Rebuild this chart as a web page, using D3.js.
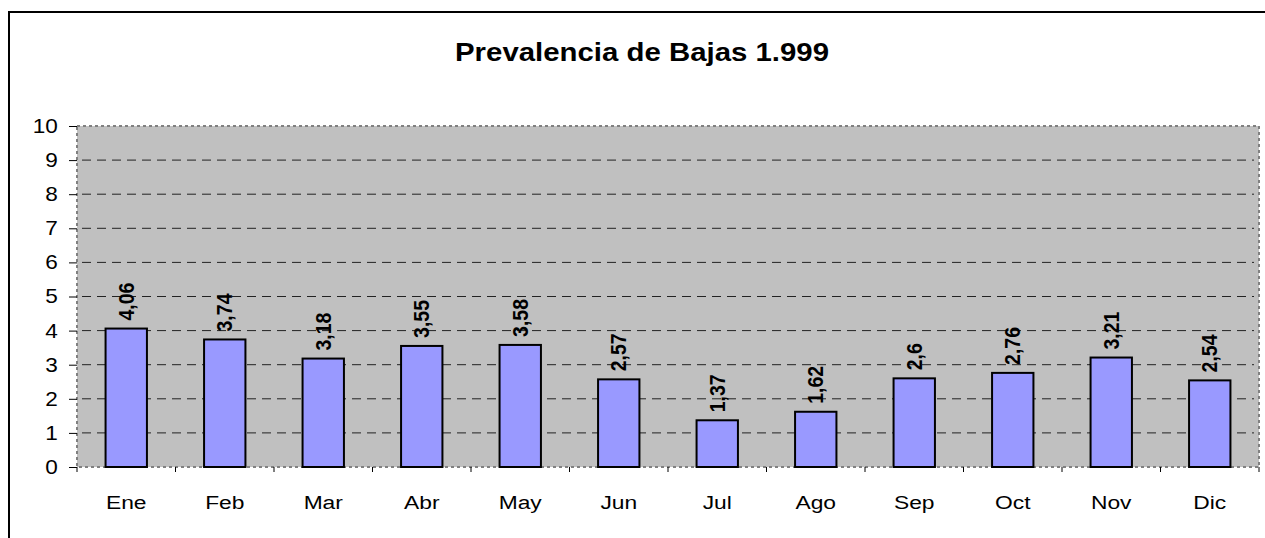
<!DOCTYPE html>
<html>
<head>
<meta charset="utf-8">
<script src="https://cdn.jsdelivr.net/npm/d3@7"></script>
<style>
  body { margin: 0; background: #fff; }
  text { font-family: Arial, "Liberation Sans", sans-serif; }
</style>
</head>
<body>
<div id="wrapper"></div>
<script>
// Data
var months = ["Ene", "Feb", "Mar", "Abr", "May", "Jun", "Jul", "Ago", "Sep", "Oct", "Nov", "Dic"];
var values = [4.06, 3.74, 3.18, 3.55, 3.58, 2.57, 1.37, 1.62, 2.6, 2.76, 3.21, 2.54];
var valueLabels = ["4,06", "3,74", "3,18", "3,55", "3,58", "2,57", "1,37", "1,62", "2,6", "2,76", "3,21", "2,54"];
var yTicks = [0, 1, 2, 3, 4, 5, 6, 7, 8, 9, 10];
var title = "Prevalencia de Bajas 1.999";

var width = 1265, height = 538;
var plot = { left: 77, right: 1259, top: 126, bottom: 467 };
var stretch = 1.13; // the source picture is a bit wider than tall

var svg = d3.select("#wrapper")
    .append("svg")
    .attr("width", width)
    .attr("height", height);

// outer chart frame (cut off on right and bottom)
svg.append("rect")
    .attr("x", 9).attr("y", 12)
    .attr("width", 1320).attr("height", 600)
    .attr("fill", "#fff")
    .attr("stroke", "#000")
    .attr("stroke-width", 2);

svg.append("text")
    .attr("transform", "translate(642,61) scale(" + stretch + ",1)")
    .attr("text-anchor", "middle")
    .style("font-size", "26px")
    .style("font-weight", "bold")
    .text(title);

var x = d3.scaleBand()
    .domain(months)
    .range([plot.left, plot.right])
    .paddingInner(0.58)
    .paddingOuter(0.29);

var xEdges = d3.scaleBand()
    .domain(months)
    .range([plot.left, plot.right]);

var y = d3.scaleLinear()
    .domain([0, 10])
    .range([plot.bottom, plot.top]);

// plot background
svg.append("rect")
    .attr("x", plot.left).attr("y", plot.top)
    .attr("width", plot.right - plot.left)
    .attr("height", plot.bottom - plot.top)
    .attr("fill", "#C0C0C0");

// gridlines
svg.selectAll("line.grid")
    .data(yTicks.filter(function(d) { return d > 0 && d < 10; }))
    .enter()
    .append("line")
    .attr("class", "grid")
    .attr("x1", plot.left + 5).attr("x2", plot.right - 5)
    .attr("y1", function(d) { return y(d); })
    .attr("y2", function(d) { return y(d); })
    .attr("stroke", "#222")
    .attr("stroke-width", 1)
    .attr("stroke-dasharray", "9,6");

// plot border (dotted gray)
svg.append("rect")
    .attr("x", plot.left).attr("y", plot.top)
    .attr("width", plot.right - plot.left)
    .attr("height", plot.bottom - plot.top)
    .attr("fill", "none")
    .attr("stroke", "#808080")
    .attr("stroke-width", 2)
    .attr("stroke-dasharray", "3,3");

// bars
svg.selectAll("rect.bar")
    .data(values)
    .enter()
    .append("rect")
    .attr("class", "bar")
    .attr("x", function(d, i) { return x(months[i]); })
    .attr("y", function(d) { return y(d); })
    .attr("width", x.bandwidth())
    .attr("height", function(d) { return y(0) - y(d); })
    .attr("fill", "#9999FF")
    .attr("stroke", "#000")
    .attr("stroke-width", 2);

// value labels
svg.selectAll("text.val")
    .data(values)
    .enter()
    .append("text")
    .attr("class", "val")
    .attr("transform", function(d, i) {
        return "translate(" + (x(months[i]) + x.bandwidth() / 2) + "," + (y(d) - 8) + ") scale(" + stretch + ",1) rotate(-90)";
    })
    .attr("dy", "0.35em")
    .style("font-size", "19.5px")
    .style("font-weight", "bold")
    .text(function(d, i) { return valueLabels[i]; });

// y axis
var yAxis = svg.append("g")
    .attr("transform", "translate(" + plot.left + ",0)")
    .call(d3.axisLeft(y).tickValues(yTicks).tickSize(8).tickPadding(9).tickFormat(d3.format("d")));
yAxis.select(".domain").remove();
yAxis.selectAll("text")
    .attr("transform", "scale(" + stretch + ",1)")
    .style("font-size", "20px")
    .style("font-family", "Arial, 'Liberation Sans', sans-serif")
    .attr("fill", "#000");
yAxis.selectAll("line").attr("stroke", "#000");

// x axis ticks at category edges
svg.selectAll("line.xtick")
    .data(months.concat(["end"]))
    .enter()
    .append("line")
    .attr("class", "xtick")
    .attr("x1", function(d, i) { return i < months.length ? xEdges(d) : plot.right; })
    .attr("x2", function(d, i) { return i < months.length ? xEdges(d) : plot.right; })
    .attr("y1", plot.bottom)
    .attr("y2", plot.bottom + 5)
    .attr("stroke", "#000");

svg.selectAll("text.xlab")
    .data(months)
    .enter()
    .append("text")
    .attr("class", "xlab")
    .attr("transform", function(d) {
        return "translate(" + (xEdges(d) + xEdges.bandwidth() / 2) + ",509) scale(1.2,1)";
    })
    .attr("text-anchor", "middle")
    .style("font-size", "19px")
    .text(function(d) { return d; });
</script>
</body>
</html>
